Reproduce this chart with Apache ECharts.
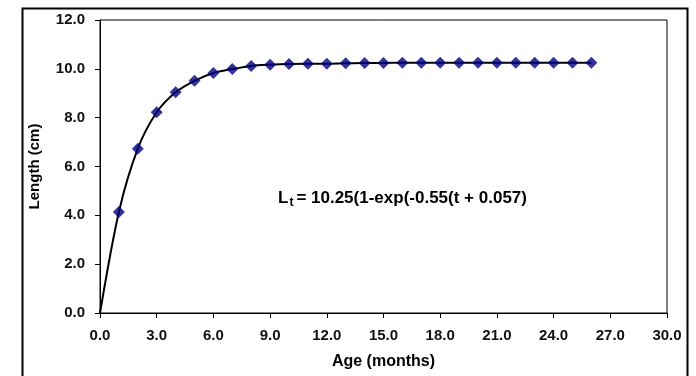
<!DOCTYPE html>
<html>
<head>
<meta charset="utf-8">
<script src="https://cdn.jsdelivr.net/npm/echarts@6/dist/echarts.min.js"></script>
<style>
html,body{margin:0;padding:0;background:#fff;}
#chart{width:696px;height:376px;}
</style>
</head>
<body>
<div id="chart"></div>
<script>
// Age in months (t) and observed lengths (cm)
const ages = [1,2,3,4,5,6,7,8,9,10,11,12,13,14,15,16,17,18,19,20,21,22,23,24,25,26];
const lengths = [4.14,6.73,8.22,9.04,9.51,9.83,9.99,10.12,10.17,10.20,10.21,10.21,10.23,10.24,10.24,10.25,10.25,10.25,10.25,10.25,10.25,10.25,10.25,10.25,10.25,10.25];
// fitted curve passes through the origin, then through the points
const curveAges = [0].concat(ages);
const curveLengths = [0].concat(lengths);
const xTicks = [0,3,6,9,12,15,18,21,24,27,30];
const yTicks = [0,2,4,6,8,10,12];
const xTitle = 'Age (months)';
const yTitle = 'Length (cm)';
const equation = {L:'L', sub:'t', rest:'= 10.25(1-exp(-0.55(t + 0.057)'};

const chart = echarts.init(document.getElementById('chart'), null, {renderer:'canvas'});
const font = 'Arial, "Liberation Sans", sans-serif';
chart.setOption({
  backgroundColor:'#fff',
  animation:false,
  grid:{left:100, top:20, right:29, bottom:63, show:true, borderColor:'#000', borderWidth:1},
  xAxis:{
    type:'value', min:xTicks[0], max:xTicks[xTicks.length-1], interval:3,
    name:xTitle, nameLocation:'middle', nameGap:41,
    nameTextStyle:{fontFamily:font, fontWeight:'bold', fontSize:16, color:'#000'},
    axisLine:{show:true, onZero:false, lineStyle:{color:'#000', width:1}},
    axisTick:{show:true, inside:false, length:5, lineStyle:{color:'#000'}},
    axisLabel:{margin:15, fontFamily:font, fontWeight:'bold', fontSize:15, color:'#111',
      formatter:v=>v.toFixed(1)},
    splitLine:{show:false}
  },
  yAxis:{
    type:'value', min:yTicks[0], max:yTicks[yTicks.length-1], interval:2,
    name:yTitle, nameLocation:'middle', nameGap:58, nameRotate:90,
    nameTextStyle:{fontFamily:font, fontWeight:'bold', fontSize:15, color:'#000'},
    axisLine:{show:true, onZero:false, lineStyle:{color:'#000', width:1}},
    axisTick:{show:true, inside:false, length:5, lineStyle:{color:'#000'}},
    axisLabel:{margin:15, fontFamily:font, fontWeight:'bold', fontSize:15, color:'#111',
      formatter:v=>v.toFixed(1)},
    splitLine:{show:false}
  },
  series:[
    {type:'line', data:curveAges.map((a,i)=>[a, curveLengths[i]]), smooth:0.3,
      showSymbol:false, symbol:'none', lineStyle:{color:'#000', width:2}, z:2},
    {type:'scatter', data:ages.map((a,i)=>[a, lengths[i]]), symbol:'diamond',
      symbolSize:[12,12], itemStyle:{color:'#000080'}, z:3}
  ],
  graphic:[
    {type:'rect', left:20, top:6, shape:{width:665, height:369},
      style:{fill:'none', stroke:'#000', lineWidth:2}, silent:true, z:-1},
    {type:'text', left:278, top:190,
      style:{
        text:'{a|'+equation.L+'}{b|'+equation.sub+'}{a|'+equation.rest+'}',
        rich:{
          a:{fontFamily:font, fontWeight:'bold', fontSize:17, fill:'#000', lineHeight:20},
          b:{fontFamily:font, fontWeight:'bold', fontSize:12, fill:'#000', verticalAlign:'bottom', padding:[8,3,0,1]}
        }
      }}
  ]
});
</script>
</body>
</html>
